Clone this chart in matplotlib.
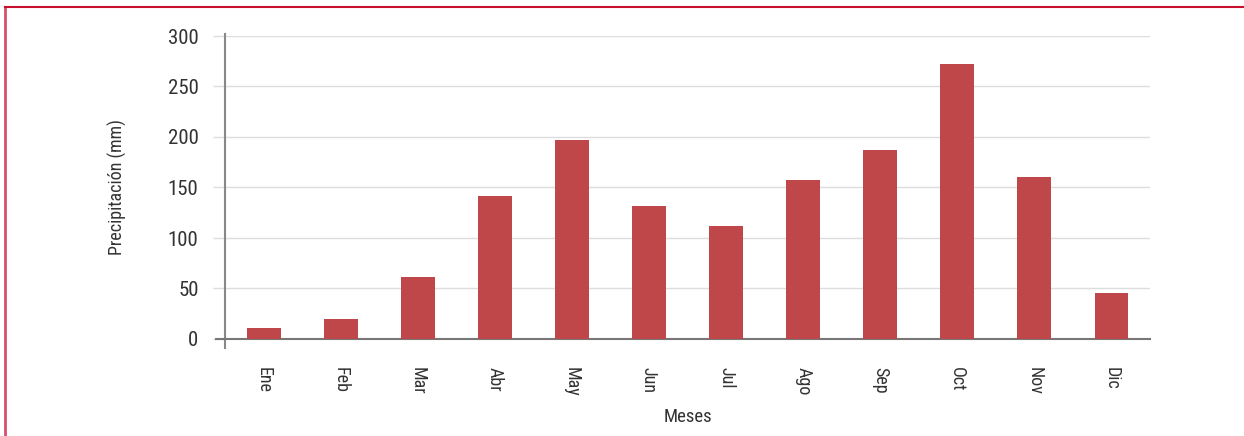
import matplotlib
matplotlib.use("Agg")
import matplotlib.pyplot as plt
from matplotlib.lines import Line2D

# Precipitación mensual
meses = ["Ene", "Feb", "Mar", "Abr", "May", "Jun", "Jul", "Ago", "Sep", "Oct", "Nov", "Dic"]
precipitacion = [11, 20, 61, 142, 197, 132, 112, 157, 187, 272, 160, 46]
yticks = [0, 50, 100, 150, 200, 250, 300]

plt.rcParams["font.family"] = ["Roboto Condensed", "DejaVu Sans"]

fig = plt.figure(figsize=(12.44, 4.36), dpi=100)
ax = fig.add_axes([225 / 1244, 1 - 339 / 436, (1150 - 225) / 1244, 303 / 436])

x = range(len(meses))
ax.bar(x, precipitacion, width=0.44, color="#bf4649", zorder=3)

ax.set_xlim(-0.5, len(meses) - 0.5)
ax.set_ylim(0, 300)
ax.set_yticks(yticks)
ax.set_xticks(list(x))
ax.set_xticklabels(meses, rotation=270, fontsize=13, color="#333333")
ax.tick_params(axis="y", labelsize=15, colors="#333333", length=9, width=1, color="#dddddd", pad=10)
ax.tick_params(axis="x", length=0, pad=20)
for lbl in ax.get_yticklabels():
    lbl.set_color("#333333")

ax.grid(axis="y", color="#dddddd", linewidth=1, zorder=0)
for side in ["top", "right"]:
    ax.spines[side].set_visible(False)
ax.spines["left"].set_color("#888888")
ax.spines["left"].set_linewidth(1.5)
ax.spines["left"].set_bounds(-9, 302)
ax.spines["bottom"].set_color("#777777")
ax.spines["bottom"].set_linewidth(1.5)

# prolongación del eje x hacia la izquierda
ax.plot([-0.5 - 9 / 77, -0.5], [0, 0], color="#777777", lw=1.5, clip_on=False, zorder=4)

ax.set_ylabel("Precipitación (mm)", fontsize=13, color="#333333", labelpad=29)
ax.set_xlabel("Meses", fontsize=13.5, color="#333333", labelpad=8)

# marco rojo
fig.add_artist(Line2D([5 / 1244, 5 / 1244], [0, 1 - 7 / 436], color="#d4506e", lw=2))
fig.add_artist(Line2D([5 / 1244, 1], [1 - 7 / 436, 1 - 7 / 436], color="#c8102e", lw=1.5))

fig.savefig("out.png", dpi=100, facecolor="white")
